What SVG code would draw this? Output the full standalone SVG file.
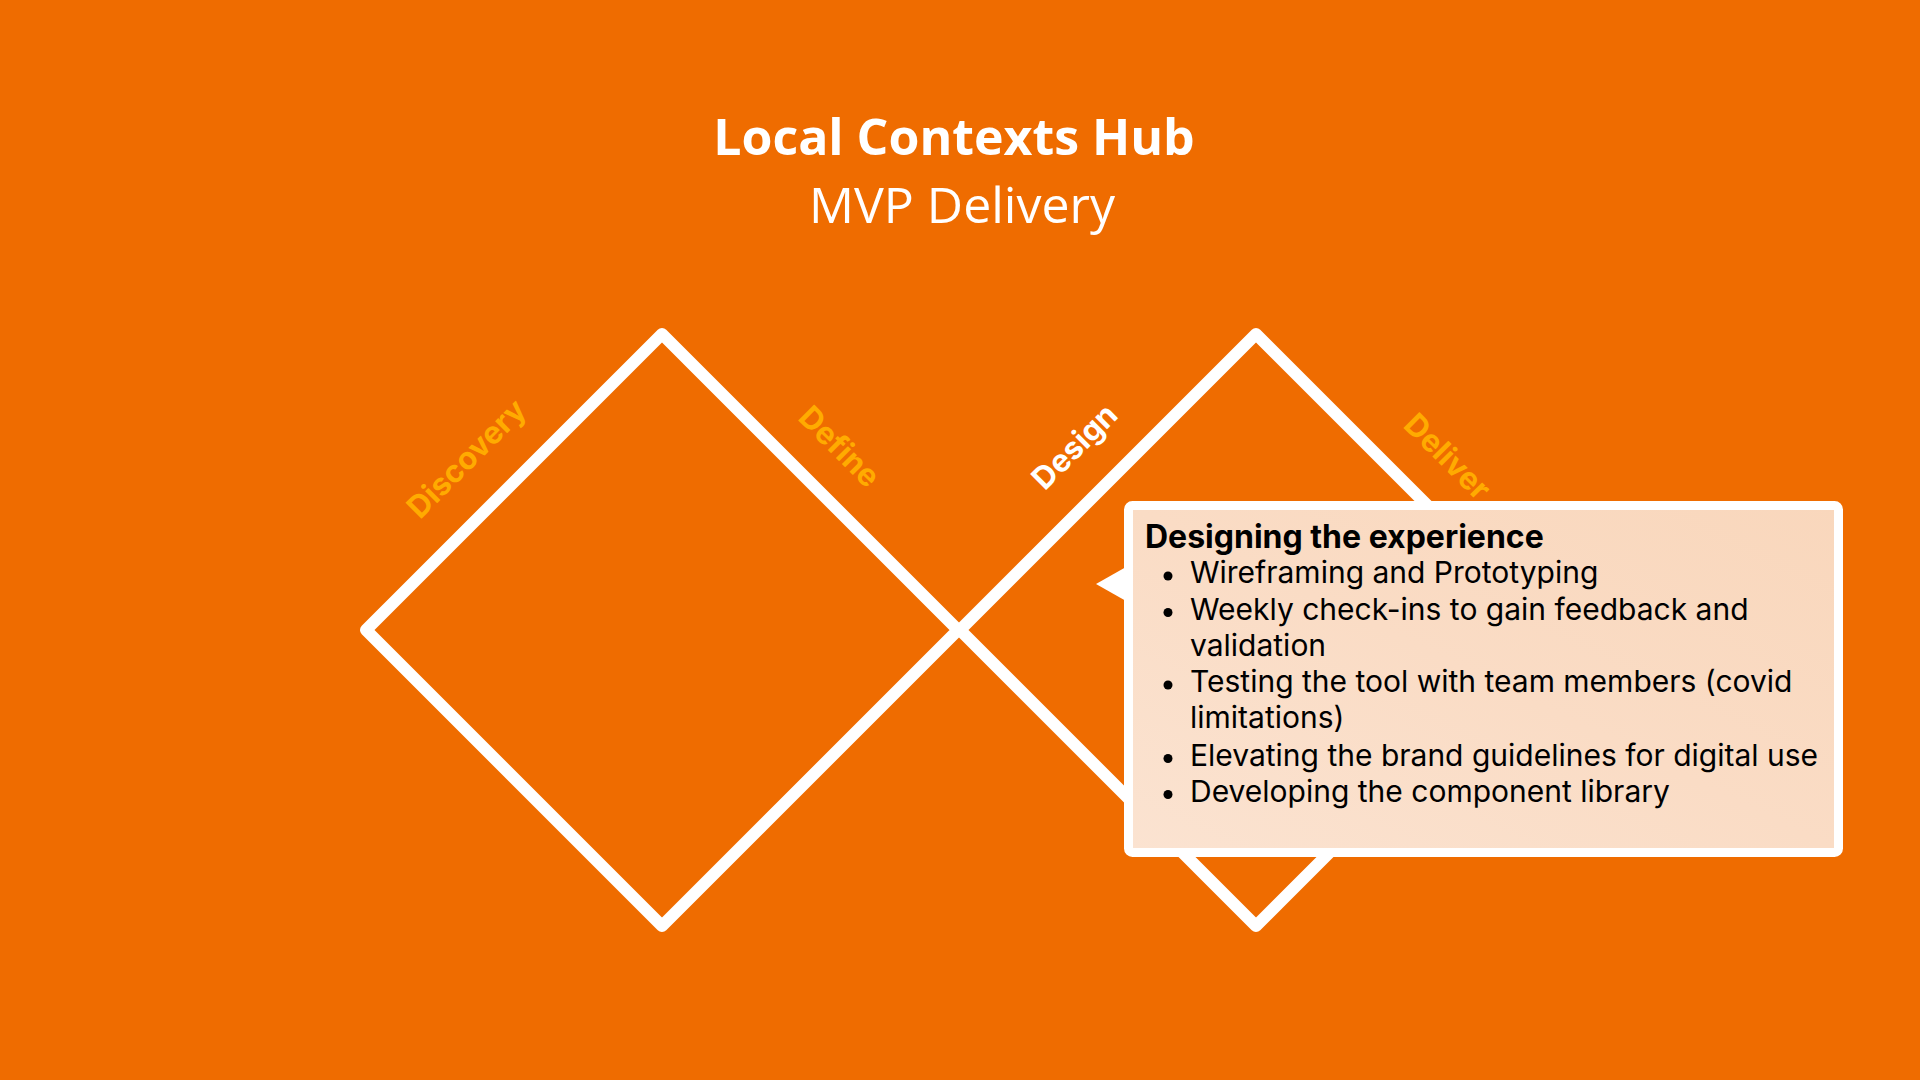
<svg xmlns="http://www.w3.org/2000/svg" width="1920" height="1080" viewBox="0 0 1920 1080">
  <defs>
    <style>
      .title { font-family: "Open Sans", "Liberation Sans", sans-serif; fill: #ffffff; font-size: 50px; text-anchor: middle; }
      .diamond { fill: none; stroke: #ffffff; stroke-width: 12; stroke-linejoin: round; }
      .phase { font-family: Inter, "Liberation Sans", sans-serif; font-weight: 700; font-size: 31px; text-anchor: middle; dominant-baseline: central; }
      .amber { fill: #ffab00; }
      .white { fill: #ffffff; }
      .box-head { font-family: Inter, "Liberation Sans", sans-serif; font-weight: 700; font-size: 32px; fill: #000000; }
      .box-text { font-family: Inter, "Liberation Sans", sans-serif; font-size: 30px; fill: #000000; }
    </style>
    <linearGradient id="peach" x1="0" y1="1" x2="1" y2="0">
      <stop offset="0" stop-color="#fbe3d1"/>
      <stop offset="0.5" stop-color="#fadcc5"/>
      <stop offset="1" stop-color="#f9d7bc"/>
    </linearGradient>
  </defs>

  <rect x="0" y="0" width="1920" height="1080" fill="#ef6c00"/>

  <g id="title">
    <text class="title" x="954" y="155" font-weight="700">Local Contexts Hub</text>
    <text class="title" x="962" y="223">MVP Delivery</text>
  </g>

  <g id="diamond-discover-define">
    <path class="diamond" d="M662,334 L958,630 L662,926 L366,630 Z"/>
  </g>
  <g id="diamond-design-deliver">
    <path class="diamond" d="M1256,334 L1552,630 L1256,926 L960,630 Z"/>
  </g>

  <g id="label-discovery">
    <text class="phase amber" transform="translate(466,458) rotate(-45)">Discovery</text>
  </g>
  <g id="label-define">
    <text class="phase amber" transform="translate(840,446) rotate(45)">Define</text>
  </g>
  <g id="label-design">
    <text class="phase white" transform="translate(1074,446) rotate(-45)">Design</text>
  </g>
  <g id="label-deliver">
    <text class="phase amber" transform="translate(1448,456) rotate(45)">Deliver</text>
  </g>

  <g id="callout">
    <polygon points="1096,584 1126,567 1126,601" fill="#ffffff"/>
    <rect x="1128.5" y="505.5" width="710" height="347" rx="4" fill="url(#peach)" stroke="#ffffff" stroke-width="9"/>
    <text class="box-head" x="1145" y="548">Designing the experience</text>
    <g>
      <circle cx="1168" cy="576" r="4.5" fill="#000"/>
      <text class="box-text" x="1190" y="583">Wireframing and Prototyping</text>
      <circle cx="1168" cy="612.5" r="4.5" fill="#000"/>
      <text class="box-text" x="1190" y="619.5">Weekly check-ins to gain feedback and</text>
      <text class="box-text" x="1190" y="655.5">validation</text>
      <circle cx="1168" cy="685" r="4.5" fill="#000"/>
      <text class="box-text" x="1190" y="692">Testing the tool with team members (covid</text>
      <text class="box-text" x="1190" y="728">limitations)</text>
      <circle cx="1168" cy="758.5" r="4.5" fill="#000"/>
      <text class="box-text" x="1190" y="765.5">Elevating the brand guidelines for digital use</text>
      <circle cx="1168" cy="794.5" r="4.5" fill="#000"/>
      <text class="box-text" x="1190" y="801.5">Developing the component library</text>
    </g>
  </g>
</svg>
